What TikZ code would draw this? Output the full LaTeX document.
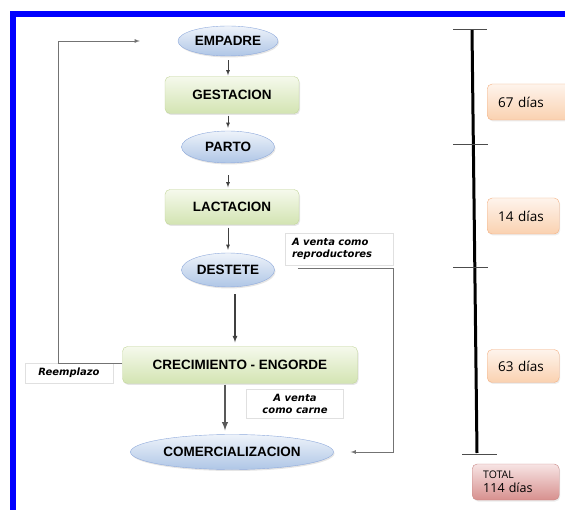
\documentclass[tikz,border=0pt]{standalone}
\usepackage{fontspec}
\setmainfont{Liberation Sans}
\newfontfamily\notefont{DejaVu Sans}
\newfontfamily\daysfont{Open Sans}
\usepackage{tikz}
\usetikzlibrary{shapes,shadows,arrows,positioning}
\definecolor{frame}{HTML}{0000FF}
\definecolor{blue1}{HTML}{EEF3FA}
\definecolor{blue2}{HTML}{AFC6E6}
\definecolor{blueline}{HTML}{8FAADC}
\definecolor{green1}{HTML}{F5F9EC}
\definecolor{green2}{HTML}{D3E4B2}
\definecolor{greenline}{HTML}{C3D69B}
\definecolor{orange1}{HTML}{FEF4EC}
\definecolor{orange2}{HTML}{FAD1B0}
\definecolor{orangeline}{HTML}{F4B183}
\definecolor{red1}{HTML}{F7E4E4}
\definecolor{red2}{HTML}{D7908E}
\definecolor{redline}{HTML}{C98A88}
\tikzset{event/.style={draw=blueline,ellipse,inner sep=0pt,top color=blue1,bottom color=blue2,
  font=\bfseries\fontsize{13.5}{15}\selectfont,drop shadow={opacity=0.2,shadow xshift=1pt,shadow yshift=-1.5pt}}}
\tikzset{stage/.style={draw=greenline,rounded corners=5pt,inner sep=0pt,top color=green1,bottom color=green2,
  font=\bfseries\fontsize{13.5}{15}\selectfont,drop shadow={opacity=0.2,shadow xshift=1pt,shadow yshift=-1.5pt}}}
\tikzset{note/.style={draw=black!12,fill=white,inner sep=0pt,align=left,
  font=\notefont\bfseries\itshape\fontsize{10}{12}\selectfont}}
\tikzset{days/.style={draw=orangeline,rounded corners=5pt,top color=orange1,bottom color=orange2,
  inner xsep=11pt,inner ysep=0pt,text width=50pt,align=left,minimum height=36pt,
  font=\daysfont\fontsize{13.5}{15}\selectfont,drop shadow={opacity=0.15,shadow xshift=1pt,shadow yshift=-1.5pt}}}
\tikzset{flow/.style={->,>=latex,draw=black!75,line width=0.8pt}}

\begin{document}
\begin{tikzpicture}[x=1pt,y=-1pt]
  \clip (0,0) rectangle (565,510);
  \useasboundingbox (0,0) rectangle (565,510);
  \fill[white] (0,0) rectangle (565,510);
  \draw[frame,line width=6pt] (13,515) -- (13,14) -- (570,14);

  % flow of the stages
  \node[event,minimum width=100pt,minimum height=30pt] (emp) at (228,41) {EMPADRE};
  \node[stage,minimum width=134pt,minimum height=37pt] (ges) at (232,95) {GESTACION};
  \node[event,minimum width=93pt,minimum height=32pt] (par) at (228,147) {PARTO};
  \node[stage,minimum width=134pt,minimum height=35pt] (lac) at (232,207) {LACTACION};
  \node[event,minimum width=93pt,minimum height=34pt] (des) at (228,270) {DESTETE};
  \node[stage,minimum width=235pt,minimum height=37pt] (cre) at (240,365) {CRECIMIENTO - ENGORDE};
  \node[event,minimum width=203pt,minimum height=35pt] (com) at (232,452) {COMERCIALIZACION};

  \node[note,minimum width=108pt,minimum height=32pt,inner xsep=7pt,text width=94pt] (rep) at (339,249)
    {A venta como\\reproductores};
  \node[note,minimum width=97pt,minimum height=29pt,align=center] (car) at (295,404)
    {A venta\\como carne};
  \node[note,minimum width=88pt,minimum height=20pt,align=center] (ree) at (69,373) {Reemplazo};

  \draw[flow,shorten <=4pt,shorten >=1pt] (emp.south) -- (emp.south |- ges.north);
  \draw[flow,shorten <=2pt,shorten >=3pt] (par.north |- ges.south) -- (par.north);
  \draw[flow,shorten <=12pt,shorten >=2pt] (par.south) -- (par.south |- lac.north);
  \draw[flow,shorten <=3pt,shorten >=3pt] (des.north |- lac.south) -- (des.north);
  \draw[flow,line width=1.2pt,shorten <=7pt,shorten >=4pt] ([xshift=7pt]des.south) -- ([xshift=7pt]des.south |- cre.north);
  \draw[flow,draw=black!65,line width=1.8pt,shorten <=1pt,shorten >=4pt] ([xshift=-7pt]com.north |- cre.south) -- ([xshift=-7pt]com.north);

  % side connectors
  \coordinate (back) at (58,363);
  \draw[flow,draw=black!55,shorten >=38pt] (cre.west |- back) -- (back) |- (emp.west);
  \draw[flow,draw=black!55,shorten >=17pt] ([xshift=13pt,yshift=-3pt]rep.south west) -- ([yshift=-3pt]rep.south east) |- (com.east);

  % time line
  \draw[line width=3pt] (472,30) -- (477,453);
  \draw[black!70,line width=1pt] (453,30) -- (487,30);
  \draw[black!70,line width=1pt] (453,145) -- (488,145);
  \draw[black!70,line width=1pt] (453,268) -- (488,268);
  \draw[black!70,line width=1pt] (462,454) -- (497,454);

  \node[days,anchor=west,minimum width=90pt,text width=68pt] (d67) at (487,102) {67 días};
  \node[days,anchor=west] (d14) at (487,216) {14 días};
  \node[days,anchor=west,minimum height=33pt] (d63) at (487,366) {63 días};
  \node[days,anchor=west,draw=redline,top color=red1,bottom color=red2,minimum width=87pt,text width=65pt,
    font=\daysfont\fontsize{12.5}{14}\selectfont] (tot) at (472,482) {{\fontsize{10.5}{12}\selectfont TOTAL}\\114 días};
\end{tikzpicture}
\end{document}
